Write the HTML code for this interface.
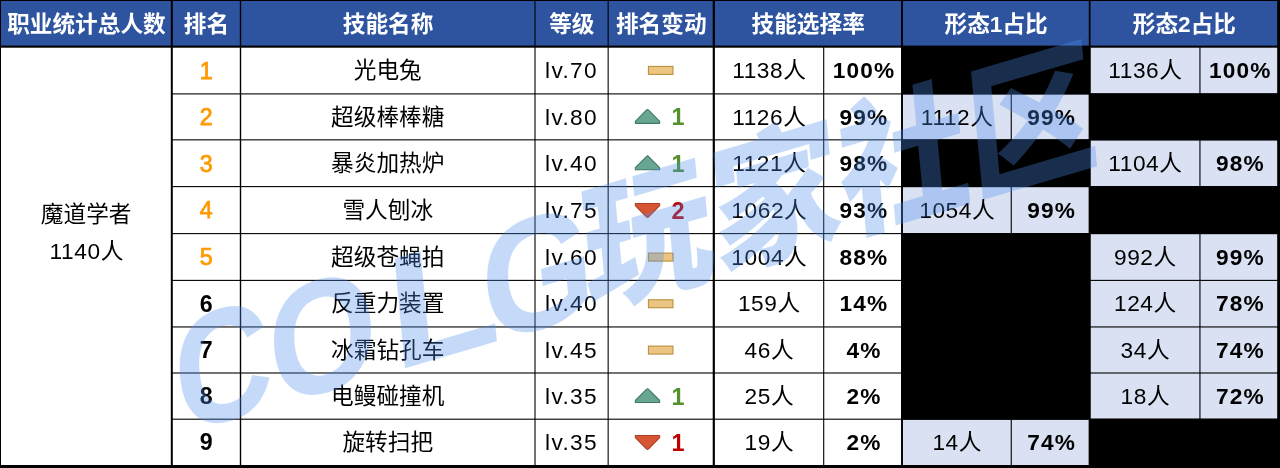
<!DOCTYPE html>
<html lang="zh-CN"><head><meta charset="utf-8"><title>技能统计</title>
<style>
html,body{margin:0;padding:0;background:#fff}
body{width:1280px;height:468px;overflow:hidden;position:relative;font-family:"Liberation Sans","Noto Sans CJK SC",sans-serif;font-size:22.67px;color:#000}
svg{position:absolute;left:0;top:0;display:block}
.c{position:absolute;display:flex;align-items:center;justify-content:center;white-space:nowrap;line-height:1}
.h{color:#fff;font-weight:700}
.b{font-weight:700}
.g{color:#54902c}
.r{color:#c00000}
.n{letter-spacing:.6px;padding-left:.6px}
.l{letter-spacing:1.35px;padding-left:0}
.p{letter-spacing:1.15px;padding-left:1.15px}
.g,.r{font-size:23.4px;font-weight:700}
.k{font-size:23.2px}
.o{color:#ff9900;font-weight:400;-webkit-text-stroke:.75px #ff9900}
.wm{pointer-events:none}
</style></head><body>
<svg width="1280" height="468" viewBox="0 0 1280 468">
<rect x="0.00" y="0.00" width="1280.00" height="46.65" fill="#2e54a0"/>
<rect x="902.00" y="46.65" width="187.65" height="47.25" fill="#000"/>
<rect x="1089.65" y="46.65" width="188.85" height="47.25" fill="#d9e1f2"/>
<rect x="902.00" y="93.90" width="187.65" height="45.95" fill="#d9e1f2"/>
<rect x="1089.65" y="93.90" width="188.85" height="45.95" fill="#000"/>
<rect x="902.00" y="139.85" width="187.65" height="46.75" fill="#000"/>
<rect x="1089.65" y="139.85" width="188.85" height="46.75" fill="#d9e1f2"/>
<rect x="902.00" y="186.60" width="187.65" height="47.00" fill="#d9e1f2"/>
<rect x="1089.65" y="186.60" width="188.85" height="47.00" fill="#000"/>
<rect x="902.00" y="233.60" width="187.65" height="46.80" fill="#000"/>
<rect x="1089.65" y="233.60" width="188.85" height="46.80" fill="#d9e1f2"/>
<rect x="902.00" y="280.40" width="187.65" height="46.55" fill="#000"/>
<rect x="1089.65" y="280.40" width="188.85" height="46.55" fill="#d9e1f2"/>
<rect x="902.00" y="326.95" width="187.65" height="46.05" fill="#000"/>
<rect x="1089.65" y="326.95" width="188.85" height="46.05" fill="#d9e1f2"/>
<rect x="902.00" y="373.00" width="187.65" height="46.20" fill="#000"/>
<rect x="1089.65" y="373.00" width="188.85" height="46.20" fill="#d9e1f2"/>
<rect x="902.00" y="419.20" width="187.65" height="45.80" fill="#d9e1f2"/>
<rect x="1089.65" y="419.20" width="188.85" height="45.80" fill="#000"/>
<rect x="0.00" y="45.60" width="1280.00" height="2.10" fill="#000"/>
<rect x="171.80" y="93.35" width="1108.20" height="1.10" fill="#000"/>
<rect x="171.80" y="139.30" width="1108.20" height="1.10" fill="#000"/>
<rect x="171.80" y="186.05" width="1108.20" height="1.10" fill="#000"/>
<rect x="171.80" y="233.05" width="1108.20" height="1.10" fill="#000"/>
<rect x="171.80" y="279.85" width="1108.20" height="1.10" fill="#000"/>
<rect x="171.80" y="326.40" width="1108.20" height="1.10" fill="#000"/>
<rect x="171.80" y="372.45" width="1108.20" height="1.10" fill="#000"/>
<rect x="171.80" y="418.65" width="1108.20" height="1.10" fill="#000"/>
<rect x="170.80" y="0.00" width="2.00" height="468.00" fill="#000"/>
<rect x="239.80" y="0.00" width="1.40" height="468.00" fill="#000"/>
<rect x="534.45" y="0.00" width="1.10" height="468.00" fill="#000"/>
<rect x="607.60" y="0.00" width="1.10" height="468.00" fill="#000"/>
<rect x="712.70" y="0.00" width="2.20" height="468.00" fill="#000"/>
<rect x="823.15" y="46.65" width="1.10" height="421.35" fill="#000"/>
<rect x="901.05" y="0.00" width="1.90" height="468.00" fill="#000"/>
<rect x="1010.70" y="46.65" width="1.10" height="421.35" fill="#000"/>
<rect x="1088.80" y="0.00" width="1.70" height="468.00" fill="#000"/>
<rect x="1199.40" y="46.65" width="1.10" height="421.35" fill="#000"/>
<rect x="901.05" y="46.20" width="189.45" height="48.15" fill="#000"/>
<rect x="1088.80" y="93.45" width="191.20" height="46.85" fill="#000"/>
<rect x="901.05" y="139.40" width="189.45" height="47.65" fill="#000"/>
<rect x="1088.80" y="186.15" width="191.20" height="47.90" fill="#000"/>
<rect x="901.05" y="233.15" width="189.45" height="47.70" fill="#000"/>
<rect x="901.05" y="279.95" width="189.45" height="47.45" fill="#000"/>
<rect x="901.05" y="326.50" width="189.45" height="46.95" fill="#000"/>
<rect x="901.05" y="372.55" width="189.45" height="47.10" fill="#000"/>
<rect x="1088.80" y="418.75" width="191.20" height="46.70" fill="#000"/>
<rect x="0.00" y="0.00" width="1280.00" height="1.00" fill="#000"/>
<rect x="0.00" y="0.00" width="1.00" height="468.00" fill="#000"/>
<rect x="1277.20" y="0.00" width="2.80" height="468.00" fill="#000"/>
<rect x="0.00" y="465.00" width="1280.00" height="3.00" fill="#000"/>
<rect x="648.4" y="66.38" width="24.6" height="8" fill="#ecc583" stroke="#b58b35" stroke-width="1"/>
<path d="M635.35 123.33 L635.35 121.28 L646.40 110.22 Q647.5 108.92 648.60 110.22 L659.65 121.28 L659.65 123.33 Z" fill="#68a694" stroke="#3f7a64" stroke-width="1.1" stroke-linejoin="round"/>
<path d="M635.35 169.68 L635.35 167.62 L646.40 156.57 Q647.5 155.27 648.60 156.57 L659.65 167.62 L659.65 169.68 Z" fill="#68a694" stroke="#3f7a64" stroke-width="1.1" stroke-linejoin="round"/>
<path d="M635.35 203.45 L635.35 205.70 L646.40 216.75 Q647.5 218.05 648.60 216.75 L659.65 205.70 L659.65 203.45 Z" fill="#d65634" stroke="#ad3f26" stroke-width="1.1" stroke-linejoin="round"/>
<rect x="648.4" y="253.10" width="24.6" height="8" fill="#ecc583" stroke="#b58b35" stroke-width="1"/>
<rect x="648.4" y="299.77" width="24.6" height="8" fill="#ecc583" stroke="#b58b35" stroke-width="1"/>
<rect x="648.4" y="346.08" width="24.6" height="8" fill="#ecc583" stroke="#b58b35" stroke-width="1"/>
<path d="M635.35 402.55 L635.35 400.50 L646.40 389.45 Q647.5 388.15 648.60 389.45 L659.65 400.50 L659.65 402.55 Z" fill="#68a694" stroke="#3f7a64" stroke-width="1.1" stroke-linejoin="round"/>
<path d="M635.35 435.45 L635.35 437.70 L646.40 448.75 Q647.5 450.05 648.60 448.75 L659.65 437.70 L659.65 435.45 Z" fill="#d65634" stroke="#ad3f26" stroke-width="1.1" stroke-linejoin="round"/>
</svg>
<div class="c h" style="left:0.80px;top:1.10px;width:171.30px;height:46.15px">职业统计总人数</div>
<div class="c h" style="left:172.10px;top:1.10px;width:68.70px;height:46.15px">排名</div>
<div class="c h" style="left:240.80px;top:1.10px;width:294.50px;height:46.15px">技能名称</div>
<div class="c h" style="left:535.30px;top:1.10px;width:73.15px;height:46.15px">等级</div>
<div class="c h" style="left:608.45px;top:1.10px;width:105.65px;height:46.15px">排名变动</div>
<div class="c h" style="left:714.10px;top:1.10px;width:188.20px;height:46.15px">技能选择率</div>
<div class="c h" style="left:902.30px;top:1.10px;width:187.65px;height:46.15px">形态1占比</div>
<div class="c h" style="left:1089.95px;top:1.10px;width:188.85px;height:46.15px">形态2占比</div>
<div class="c " style="left:0.50px;top:202.00px;width:171.30px;height:24.00px">魔道学者</div>
<div class="c n" style="left:0.50px;top:239.50px;width:171.30px;height:24.00px">1140人</div>
<div class="c b k o" style="left:171.80px;top:47.55px;width:68.70px;height:47.25px">1</div>
<div class="c " style="left:240.50px;top:46.65px;width:294.50px;height:47.25px">光电兔</div>
<div class="c l" style="left:535.00px;top:46.65px;width:73.15px;height:47.25px">lv.70</div>
<div class="c n" style="left:713.80px;top:46.65px;width:109.90px;height:47.25px">1138人</div>
<div class="c b p" style="left:823.70px;top:46.65px;width:78.30px;height:47.25px">100%</div>
<div class="c n" style="left:1089.65px;top:46.65px;width:110.30px;height:47.25px">1136人</div>
<div class="c b p" style="left:1199.95px;top:46.65px;width:78.55px;height:47.25px">100%</div>
<div class="c b k o" style="left:171.80px;top:94.80px;width:68.70px;height:45.95px">2</div>
<div class="c " style="left:240.50px;top:93.90px;width:294.50px;height:45.95px">超级棒棒糖</div>
<div class="c l" style="left:535.00px;top:93.90px;width:73.15px;height:45.95px">lv.80</div>
<div class="c g" style="left:668.00px;top:95.10px;width:20.00px;height:45.95px">1</div>
<div class="c n" style="left:713.80px;top:93.90px;width:109.90px;height:45.95px">1126人</div>
<div class="c b p" style="left:823.70px;top:93.90px;width:78.30px;height:45.95px">99%</div>
<div class="c n" style="left:902.00px;top:93.90px;width:109.25px;height:45.95px">1112人</div>
<div class="c b p" style="left:1011.25px;top:93.90px;width:78.40px;height:45.95px">99%</div>
<div class="c b k o" style="left:171.80px;top:140.75px;width:68.70px;height:46.75px">3</div>
<div class="c " style="left:240.50px;top:139.85px;width:294.50px;height:46.75px">暴炎加热炉</div>
<div class="c l" style="left:535.00px;top:139.85px;width:73.15px;height:46.75px">lv.40</div>
<div class="c g" style="left:668.00px;top:141.05px;width:20.00px;height:46.75px">1</div>
<div class="c n" style="left:713.80px;top:139.85px;width:109.90px;height:46.75px">1121人</div>
<div class="c b p" style="left:823.70px;top:139.85px;width:78.30px;height:46.75px">98%</div>
<div class="c n" style="left:1089.65px;top:139.85px;width:110.30px;height:46.75px">1104人</div>
<div class="c b p" style="left:1199.95px;top:139.85px;width:78.55px;height:46.75px">98%</div>
<div class="c b k o" style="left:171.80px;top:187.50px;width:68.70px;height:47.00px">4</div>
<div class="c " style="left:240.50px;top:186.60px;width:294.50px;height:47.00px">雪人刨冰</div>
<div class="c l" style="left:535.00px;top:186.60px;width:73.15px;height:47.00px">lv.75</div>
<div class="c r" style="left:668.00px;top:187.80px;width:20.00px;height:47.00px">2</div>
<div class="c n" style="left:713.80px;top:186.60px;width:109.90px;height:47.00px">1062人</div>
<div class="c b p" style="left:823.70px;top:186.60px;width:78.30px;height:47.00px">93%</div>
<div class="c n" style="left:902.00px;top:186.60px;width:109.25px;height:47.00px">1054人</div>
<div class="c b p" style="left:1011.25px;top:186.60px;width:78.40px;height:47.00px">99%</div>
<div class="c b k o" style="left:171.80px;top:234.50px;width:68.70px;height:46.80px">5</div>
<div class="c " style="left:240.50px;top:233.60px;width:294.50px;height:46.80px">超级苍蝇拍</div>
<div class="c l" style="left:535.00px;top:233.60px;width:73.15px;height:46.80px">lv.60</div>
<div class="c n" style="left:713.80px;top:233.60px;width:109.90px;height:46.80px">1004人</div>
<div class="c b p" style="left:823.70px;top:233.60px;width:78.30px;height:46.80px">88%</div>
<div class="c n" style="left:1089.65px;top:233.60px;width:110.30px;height:46.80px">992人</div>
<div class="c b p" style="left:1199.95px;top:233.60px;width:78.55px;height:46.80px">99%</div>
<div class="c b k" style="left:171.80px;top:281.30px;width:68.70px;height:46.55px">6</div>
<div class="c " style="left:240.50px;top:280.40px;width:294.50px;height:46.55px">反重力装置</div>
<div class="c l" style="left:535.00px;top:280.40px;width:73.15px;height:46.55px">lv.40</div>
<div class="c n" style="left:713.80px;top:280.40px;width:109.90px;height:46.55px">159人</div>
<div class="c b p" style="left:823.70px;top:280.40px;width:78.30px;height:46.55px">14%</div>
<div class="c n" style="left:1089.65px;top:280.40px;width:110.30px;height:46.55px">124人</div>
<div class="c b p" style="left:1199.95px;top:280.40px;width:78.55px;height:46.55px">78%</div>
<div class="c b k" style="left:171.80px;top:327.85px;width:68.70px;height:46.05px">7</div>
<div class="c " style="left:240.50px;top:326.95px;width:294.50px;height:46.05px">冰霜钻孔车</div>
<div class="c l" style="left:535.00px;top:326.95px;width:73.15px;height:46.05px">lv.45</div>
<div class="c n" style="left:713.80px;top:326.95px;width:109.90px;height:46.05px">46人</div>
<div class="c b p" style="left:823.70px;top:326.95px;width:78.30px;height:46.05px">4%</div>
<div class="c n" style="left:1089.65px;top:326.95px;width:110.30px;height:46.05px">34人</div>
<div class="c b p" style="left:1199.95px;top:326.95px;width:78.55px;height:46.05px">74%</div>
<div class="c b k" style="left:171.80px;top:373.90px;width:68.70px;height:46.20px">8</div>
<div class="c " style="left:240.50px;top:373.00px;width:294.50px;height:46.20px">电鳗碰撞机</div>
<div class="c l" style="left:535.00px;top:373.00px;width:73.15px;height:46.20px">lv.35</div>
<div class="c g" style="left:668.00px;top:374.20px;width:20.00px;height:46.20px">1</div>
<div class="c n" style="left:713.80px;top:373.00px;width:109.90px;height:46.20px">25人</div>
<div class="c b p" style="left:823.70px;top:373.00px;width:78.30px;height:46.20px">2%</div>
<div class="c n" style="left:1089.65px;top:373.00px;width:110.30px;height:46.20px">18人</div>
<div class="c b p" style="left:1199.95px;top:373.00px;width:78.55px;height:46.20px">72%</div>
<div class="c b k" style="left:171.80px;top:420.10px;width:68.70px;height:45.80px">9</div>
<div class="c " style="left:240.50px;top:419.20px;width:294.50px;height:45.80px">旋转扫把</div>
<div class="c l" style="left:535.00px;top:419.20px;width:73.15px;height:45.80px">lv.35</div>
<div class="c r" style="left:668.00px;top:420.40px;width:20.00px;height:45.80px">1</div>
<div class="c n" style="left:713.80px;top:419.20px;width:109.90px;height:45.80px">19人</div>
<div class="c b p" style="left:823.70px;top:419.20px;width:78.30px;height:45.80px">2%</div>
<div class="c n" style="left:902.00px;top:419.20px;width:109.25px;height:45.80px">14人</div>
<div class="c b p" style="left:1011.25px;top:419.20px;width:78.40px;height:45.80px">74%</div>
<svg class="wm" width="1280" height="468" viewBox="0 0 1280 468">
<g transform="translate(180,434.5) rotate(-16.4) skewX(-11)" fill="#4f8eef" opacity="0.32">
<text y="0" font-family="'Liberation Sans','Noto Sans CJK SC',sans-serif" font-weight="700" font-size="157"><tspan x="0" textLength="100" lengthAdjust="spacingAndGlyphs">C</tspan><tspan x="98" textLength="112" lengthAdjust="spacingAndGlyphs">O</tspan><tspan x="222" textLength="114" lengthAdjust="spacingAndGlyphs">L</tspan><tspan x="320" textLength="116" lengthAdjust="spacingAndGlyphs">G</tspan></text>
<text x="426" y="-8" font-family="'Liberation Sans','Noto Sans CJK SC',sans-serif" font-weight="900" font-size="143" textLength="535" lengthAdjust="spacingAndGlyphs">玩家社区</text>
</g></svg>
</body></html>
